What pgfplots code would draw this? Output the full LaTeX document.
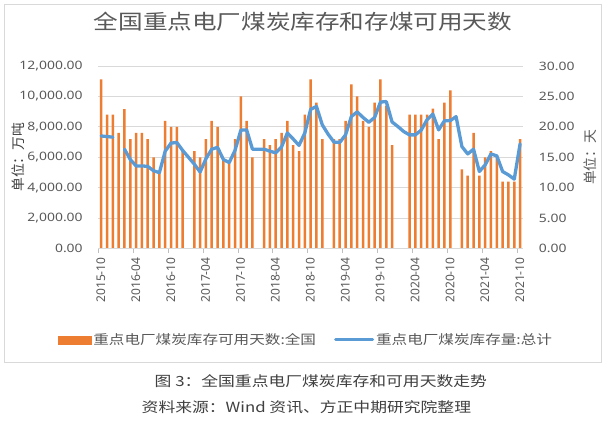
\documentclass[border=0pt]{standalone}
\usepackage{pgfplots}
\pgfplotsset{compat=1.18}
\usepackage{pgfplotstable}
\usepackage{fontspec}
\setmainfont{Noto Sans}
\newfontfamily\numfont[FakeStretch=1.2]{Noto Sans}
\newfontfamily\xfont{Noto Sans}
\newfontfamily\cjk{Noto Sans CJK SC}
\newfontfamily\cjkw[FakeStretch=1.2]{Noto Sans CJK SC}
\definecolor{barc}{HTML}{ED7D31}
\definecolor{linec}{HTML}{5B9BD5}
\definecolor{txt}{HTML}{595959}
\definecolor{gridc}{HTML}{D9D9D9}
\definecolor{tickc}{HTML}{BFBFBF}
\definecolor{capc}{HTML}{404040}

% monthly data, i = 0 is 2015-10
% d: coal stock available days (bars, right axis)
\pgfplotstableread{
i d
0 27.8
1 22.0
2 22.0
3 19.0
4 22.9
5 18.0
6 19.0
7 19.0
8 18.0
9 15.0
10 12.5
11 21.0
12 20.0
13 20.0
14 16.0
15 nan
16 16.0
17 15.0
18 18.0
19 21.0
20 20.0
21 14.6
22 14.0
23 18.0
24 25.0
25 21.0
26 15.0
27 nan
28 18.0
29 17.0
30 18.0
31 19.0
32 21.0
33 17.0
34 16.0
35 22.0
36 27.8
37 24.0
38 18.0
39 nan
40 18.0
41 18.0
42 21.0
43 27.0
44 25.0
45 21.0
46 20.0
47 24.0
48 27.8
49 23.5
50 17.0
51 nan
52 nan
53 22.0
54 22.0
55 22.0
56 22.0
57 23.0
58 18.0
59 24.0
60 26.0
61 nan
62 13.0
63 12.0
64 19.0
65 12.0
66 15.0
67 16.0
68 15.0
69 11.0
70 11.0
71 11.0
72 18.0
}\bardata

% v: coal stock (line, left axis, 10k tonnes)
\pgfplotstableread{
i v
0 7400
1 7360
2 7320
3 nan
4 6530
5 5850
6 5430
7 5430
8 5400
9 5110
10 4990
11 6400
12 6930
13 6970
14 6450
15 6000
16 5550
17 5030
18 5900
19 6530
20 6650
21 5850
22 5650
23 6450
24 7780
25 7800
26 6530
27 6530
28 6530
29 6400
30 6290
31 6680
32 7600
33 7200
34 6780
35 7600
36 9150
37 9340
38 8130
39 7520
40 7000
41 6970
42 7470
43 8680
44 8980
45 8620
46 8300
47 8620
48 9630
49 9660
50 8320
51 8020
52 7690
53 7470
54 7470
55 7780
56 8460
57 8840
58 7800
59 8400
60 8410
61 8670
62 6700
63 6220
64 6530
65 5060
66 5500
67 6220
68 6090
69 5060
70 4840
71 4560
72 6880
}\linedata

\begin{document}
\begin{tikzpicture}[x=1pt,y=1pt]
\useasboundingbox (-98.3,-172.5) rectangle (507.7,248.5);
\fill[white] (-98.3,-172.5) rectangle (507.7,248.5);
\draw[gridc, line width=0.8pt] (-94.3,244.5) rectangle (502.7,-113.5);

% bars: available days, right axis
\begin{axis}[
  at={(0pt,0pt)}, anchor=south west, scale only axis,
  width=424.7pt, height=182.5pt,
  xmin=0, xmax=73, ymin=0, ymax=30,
  axis x line=none, axis y line*=right,
  y axis line style={draw=none},
  ytick={0,5,...,30}, ytick style={draw=none},
  ymajorgrids, grid style={gridc, line width=0.8pt},
  /pgf/number format/assume math mode=true,
  yticklabel style={font=\numfont\fontsize{11.6}{13}\selectfont, text=txt, xshift=12.4pt,
    /pgf/number format/.cd, fixed, fixed zerofill, precision=2},
  ylabel={单位：天},
  every axis y label/.style={at={(axis description cs:1.158,0.5)}, rotate=90, anchor=center,
    font=\cjk\fontsize{13.8}{15}\selectfont, text=txt},
]
\addplot[ybar, bar width=2.5pt, fill=barc, draw=none] table[x expr=\thisrow{i}+0.5, y=d]{\bardata};
\end{axis}

% line: coal stock, left axis
\begin{axis}[
  at={(0pt,0pt)}, anchor=south west, scale only axis,
  width=424.7pt, height=182.5pt,
  xmin=0, xmax=73, ymin=0, ymax=12000,
  clip=false,
  axis x line*=bottom, axis y line*=left,
  y axis line style={draw=none}, ytick style={draw=none},
  x axis line style={draw=gridc, line width=0.8pt, -},
  xtick={0,6,...,72}, xticklabels={}, xtick align=outside, major tick length=4.5pt,
  xtick style={draw=tickc, line width=0.8pt},
  extra x ticks={0.45,6.45,12.45,18.45,24.45,30.45,36.45,42.45,48.45,54.45,60.45,66.45,72.45},
  extra x tick labels={2015-10,2016-04,2016-10,2017-04,2017-10,2018-04,2018-10,2019-04,2019-10,2020-04,2020-10,2021-04,2021-10},
  extra x tick style={major tick length=0pt},
  xticklabel style={rotate=90, anchor=east, xshift=-5.5pt, font=\xfont\fontsize{12}{13}\selectfont, text=txt},
  ytick={0,2000,...,12000}, scaled y ticks=false,
  /pgf/number format/assume math mode=true,
  yticklabel style={font=\numfont\fontsize{11.6}{13}\selectfont, text=txt, xshift=-12.1pt,
    /pgf/number format/.cd, fixed, fixed zerofill, precision=2, 1000 sep={,}},
  ylabel={单位：万吨},
  every axis y label/.style={at={(axis description cs:-0.189,0.5)}, rotate=90, anchor=center,
    font=\cjk\fontsize{13.8}{15}\selectfont, text=capc},
  title={全国重点电厂煤炭库存和存煤可用天数},
  title style={at={(axis description cs:0.482,1.208)}, anchor=center,
    font=\cjkw\fontsize{20.5}{22}\selectfont, text=txt},
  legend columns=2,
  legend style={at={(axis description cs:0.489,-0.501)}, anchor=center, draw=none, fill=none,
    font=\cjkw\fontsize{13}{15}\selectfont, text=txt, inner sep=0pt,
    /tikz/every even column/.append style={column sep=16pt}},
]
\addlegendimage{legend image code/.code={\fill[barc] (0pt,-4pt) rectangle (33pt,4pt);}}
\addlegendentry{重点电厂煤炭库存可用天数:全国}
\addplot[linec, line width=3.3pt, line join=round, line cap=round, unbounded coords=jump,
  legend image code/.code={\draw[linec, line width=3pt] (0pt,0pt) -- (37pt,0pt);}]
  table[x expr=\thisrow{i}+0.5, y=v]{\linedata};
\addlegendentry{重点电厂煤炭库存量:总计}
\node[font=\cjkw\fontsize{14}{16}\selectfont, text=capc] at (axis description cs:0.524,-0.726) {图 3：全国重点电厂煤炭库存和可用天数走势};
\node[font=\cjkw\fontsize{14}{16}\selectfont, text=capc] at (axis description cs:0.490,-0.868) {资料来源：Wind 资讯、方正中期研究院整理};
\end{axis}
\end{tikzpicture}
\end{document}
